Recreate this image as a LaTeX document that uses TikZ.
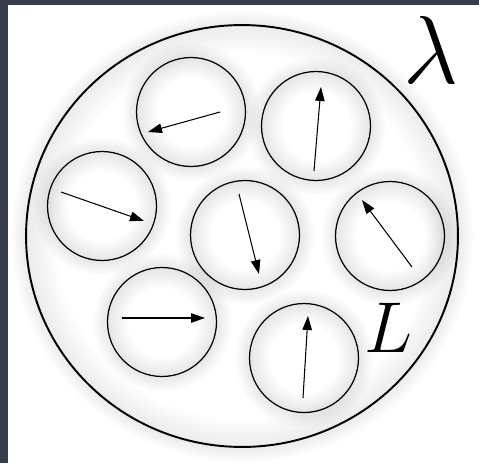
\RequirePackage{fix-cm}
\documentclass[tikz,border=0pt]{standalone}
\usepackage{amsmath, amssymb}
\usepackage{xcolor}
\usepackage{tikz}
\usetikzlibrary{calc, arrows.meta}

\definecolor{slate}{RGB}{57,60,75}

% soft halo round each little domain
\pgfdeclareradialshading{halo}{\pgfpoint{0bp}{0bp}}{%
  color(0bp)=(white); color(12bp)=(white); color(19.3bp)=(black!10);
  color(25bp)=(white); color(50bp)=(white)}
\pgfdeclareradialshading{bighalo}{\pgfpoint{0bp}{0bp}}{%
  color(0bp)=(white); color(20bp)=(white); color(23.3bp)=(black!8);
  color(25bp)=(white); color(50bp)=(white)}

\tikzset{
  cellbox/.style={circle, draw, line width=0.7pt, minimum size=2.18cm, inner sep=0pt},
  spin/.style={line width=0.6pt, -{Triangle[length=0.28cm, width=0.19cm]}},
}

\begin{document}
\begin{tikzpicture}[x=0.02cm, y=-0.02cm]
    % fond sombre et panneau blanc
    \fill[slate] (0,0) rectangle (479,463);
    \fill[white] (8,5) rectangle (479,463);
    \useasboundingbox (0,0) rectangle (479,463);

    % grand domaine
    \coordinate (big) at (242,236);
    \shade[shading=bighalo] (big) ellipse [x radius=4.64cm, y radius=4.54cm];

    % les petits domaines
    \foreach \x/\y in {191/112, 316/126, 102/206, 245/235,
                       390/236, 162/322, 304/358}
        \shade[shading=halo, blend mode=multiply] (\x,\y) circle [radius=1.4cm];

    \draw[line width=1.1pt] (big) ellipse [x radius=4.32cm, y radius=4.22cm];

    \node[cellbox] (d1) at (191,112) {};
    \node[cellbox] (d2) at (316,126) {};
    \node[cellbox] (d3) at (102,206) {};
    \node[cellbox] (d4) at (245,235) {};
    \node[cellbox] (d5) at (390,236) {};
    \node[cellbox] (d6) at (162,322) {};
    \node[cellbox] (d7) at (304,358) {};

    % orientation dans chaque domaine
    \coordinate (t1) at (220,112); \coordinate (h1) at (148,132);
    \coordinate (t2) at (314,171); \coordinate (h2) at (321,87);
    \coordinate (t3) at (61,192);  \coordinate (h3) at (144,221);
    \coordinate (t4) at (239,194); \coordinate (h4) at (259,274);
    \coordinate (t5) at (412,267); \coordinate (h5) at (362,200);
    \coordinate (t6) at (122,318); \coordinate (h6) at (205,318);
    \coordinate (t7) at (303,398); \coordinate (h7) at (308,316);
    \foreach \i in {1,...,7}
        \draw[spin] (t\i) -- (h\i);

    % étiquettes
    \node[inner sep=0pt] (lam) at (431,50) {\fontsize{55}{60}\selectfont$\lambda$};
    \node[inner sep=0pt] (ell) at (388,328) {\fontsize{41}{46}\selectfont$L$};
\end{tikzpicture}
\end{document}
